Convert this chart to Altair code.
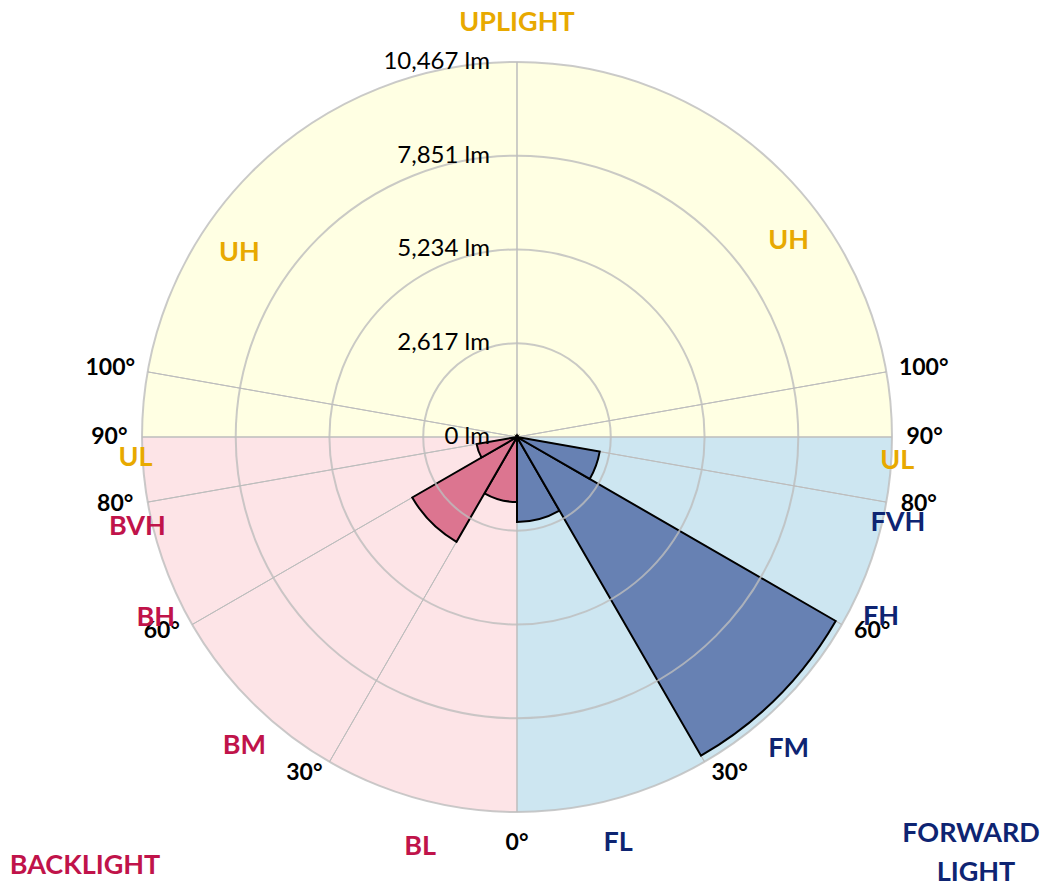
import math
import altair as alt
import pandas as pd

# ---------------- data ----------------
MAX_LM = 10467
RING_VALUES = [0, 2617, 5234, 7851, 10467]

ZONES = ["BL", "BM", "BH", "BVH", "FL", "FM", "FH", "FVH", "UL", "UH"]
ZONE_LO = [0, 30, 60, 80, 0, 30, 60, 80, 90, 100]
ZONE_HI = [30, 60, 80, 90, 30, 60, 80, 90, 100, 180]
LUMENS = [1814, 3377, 1144, 0, 2372, 10272, 2344, 0, 0, 0]
GROUPS = ["back", "back", "back", "back", "fwd", "fwd", "fwd", "fwd", "up", "up"]

RADIAL_ANGLES = [0, 30, 60, 80, 90, 100, 180]
DEGREE_LABELS = ["0°", "30°", "60°", "80°", "90°", "100°"]

# label placement (angle from nadir, radius as fraction of outer ring)
DEG_LABEL_POS = [(0, 1.083), (32.3, 1.061), (61.3, 1.08), (80.6, 1.086), (90, 1.087), (99.6, 1.10)]
ZONE_LABEL_POS = {
    ("BL", "L"): (13.3, 1.123), ("BM", "L"): (41.4, 1.099), ("BH", "L"): (63.4, 1.077),
    ("BVH", "L"): (76.7, 1.04), ("UL", "L"): (86.9, 1.019), ("UH", "L"): (123.6, 0.889),
    ("FL", "R"): (14.0, 1.115), ("FM", "R"): (41.0, 1.104), ("FH", "R"): (63.7, 1.083),
    ("FVH", "R"): (77.3, 1.041), ("UL", "R"): (86.4, 1.016), ("UH", "R"): (125.8, 0.893),
}

COL_BG = {"back": "#FDE4E7", "fwd": "#CDE6F1", "up": "#FFFFE3"}
COL_WEDGE = {"back": "#DC7590", "fwd": "#6781B3", "up": "#EAAA00"}
COL_TEXT = {"back": "#C0134A", "fwd": "#0E2472", "up": "#E8A900"}

FONT = "Lato"
CX, CY = 509, 429
R_PX = 375


def theta_of(angle, side):
    return 180 - angle if side == "R" else 180 + angle


def sides_of(group):
    return {"back": ["L"], "fwd": ["R"], "up": ["L", "R"]}[group]


# ---------------- tables ----------------
bg_rows = [
    {"t1": theta_of(0, "R") - 90, "t2": theta_of(0, "R"), "r": MAX_LM, "g": "fwd"},
    {"t1": theta_of(0, "L"), "t2": theta_of(90, "L"), "r": MAX_LM, "g": "back"},
    {"t1": theta_of(90, "L"), "t2": theta_of(90, "L") + 180, "r": MAX_LM, "g": "up"},
]
bg = pd.DataFrame(bg_rows)

wedge_rows = []
for z, lo, hi, v, g in zip(ZONES, ZONE_LO, ZONE_HI, LUMENS, GROUPS):
    for s in sides_of(g):
        a, b = sorted([theta_of(lo, s), theta_of(hi, s)])
        wedge_rows.append({"zone": z, "t1": a, "t2": b, "r": v, "g": g})
wedges = pd.DataFrame(wedge_rows)

rings = pd.DataFrame({"r": RING_VALUES, "t1": 0, "t2": 360,
                      "label": [f"{v:,} lm" for v in RING_VALUES]})

radial_rows = []
for a in RADIAL_ANGLES:
    for s in (["L", "R"] if a not in (0, 180) else ["R"]):
        radial_rows.append({"t": theta_of(a, s), "r": MAX_LM})
radials = pd.DataFrame(radial_rows)

deg_rows = []
for lab, (pa, pr) in zip(DEGREE_LABELS, DEG_LABEL_POS):
    for s in (["L", "R"] if lab != "0°" else ["R"]):
        deg_rows.append({"label": lab, "t": theta_of(pa, s), "r": pr * MAX_LM})
degs = pd.DataFrame(deg_rows)

zl_rows = []
for z, g in zip(ZONES, GROUPS):
    for s in sides_of(g):
        pa, pr = ZONE_LABEL_POS[(z, s)]
        zl_rows.append({"label": z, "t": theta_of(pa, s), "r": pr * MAX_LM, "g": g})
zlabels = pd.DataFrame(zl_rows)

titles = pd.DataFrame([
    {"label": "UPLIGHT", "x": 509, "y": 14.5, "g": "up"},
    {"label": "BACKLIGHT", "x": 77, "y": 858, "g": "back"},
    {"label": "FORWARD", "x": 963, "y": 826, "g": "fwd"},
    {"label": "LIGHT", "x": 968, "y": 864.5, "g": "fwd"},
])

# ---------------- scales ----------------
th_scale = alt.Scale(type="linear", domain=[0, 360], range=[0, 2 * math.pi])
r_scale = alt.Scale(type="linear", domain=[0, MAX_LM], range=[0, R_PX], zero=True, nice=False)
bg_col = alt.Scale(domain=list(COL_BG), range=list(COL_BG.values()))
w_col = alt.Scale(domain=list(COL_WEDGE), range=list(COL_WEDGE.values()))
t_col = alt.Scale(domain=list(COL_TEXT), range=list(COL_TEXT.values()))

pos = dict(x=alt.value(CX), y=alt.value(CY))

background = alt.Chart(bg).mark_arc(strokeWidth=0).encode(
    theta=alt.Theta("t1:Q", scale=th_scale, stack=None),
    theta2="t2:Q",
    radius=alt.Radius("r:Q", scale=r_scale),
    fill=alt.Fill("g:N", scale=bg_col, legend=None),
    **pos,
)

radial_lines = alt.Chart(radials).mark_arc(
    fillOpacity=0, stroke="#BDBDBD", strokeWidth=1
).encode(
    theta=alt.Theta("t:Q", scale=th_scale, stack=None),
    theta2="t:Q",
    radius=alt.Radius("r:Q", scale=r_scale),
    **pos,
)

data_wedges = alt.Chart(wedges).mark_arc(
    stroke="black", strokeWidth=2, strokeJoin="miter"
).encode(
    theta=alt.Theta("t1:Q", scale=th_scale, stack=None),
    theta2="t2:Q",
    radius=alt.Radius("r:Q", scale=r_scale),
    fill=alt.Fill("g:N", scale=w_col, legend=None),
    **pos,
)

ring_lines = alt.Chart(rings).mark_arc(
    fillOpacity=0, stroke="#BDBDBD", strokeWidth=2, strokeOpacity=0.8
).encode(
    theta=alt.Theta("t1:Q", scale=th_scale, stack=None),
    theta2="t2:Q",
    radius=alt.Radius("r:Q", scale=r_scale),
    **pos,
)

ring_text = alt.Chart(rings).mark_text(
    align="right", baseline="middle", dx=-27, font=FONT, fontSize=24, color="black"
).encode(
    theta=alt.Theta("t1:Q", scale=th_scale, stack=None),
    radius=alt.Radius("r:Q", scale=r_scale),
    text="label:N",
    **pos,
)

deg_text = alt.Chart(degs).mark_text(
    align="center", baseline="middle", font=FONT, fontSize=23, fontWeight="bold", color="black"
).encode(
    theta=alt.Theta("t:Q", scale=th_scale, stack=None),
    radius=alt.Radius("r:Q", scale=r_scale),
    text="label:N",
    **pos,
)

zone_text = alt.Chart(zlabels).mark_text(
    align="center", baseline="middle", font=FONT, fontSize=27, fontWeight="bold"
).encode(
    theta=alt.Theta("t:Q", scale=th_scale, stack=None),
    radius=alt.Radius("r:Q", scale=r_scale),
    text="label:N",
    color=alt.Color("g:N", scale=t_col, legend=None),
    **pos,
)

title_text = alt.Chart(titles).mark_text(
    align="center", baseline="middle", font=FONT, fontSize=27, fontWeight="bold"
).encode(
    x=alt.X("x:Q", scale=None),
    y=alt.Y("y:Q", scale=None),
    text="label:N",
    color=alt.Color("g:N", scale=t_col, legend=None),
)

chart = alt.layer(
    background, radial_lines, data_wedges, ring_lines, ring_text, deg_text, zone_text, title_text
).resolve_scale(color="independent", fill="independent").properties(
    width=1034, height=878, padding=0, autosize=alt.AutoSizeParams(type="none")
).configure_view(stroke=None)

chart.save("out.html", embed_options={"renderer": "svg", "actions": False})
